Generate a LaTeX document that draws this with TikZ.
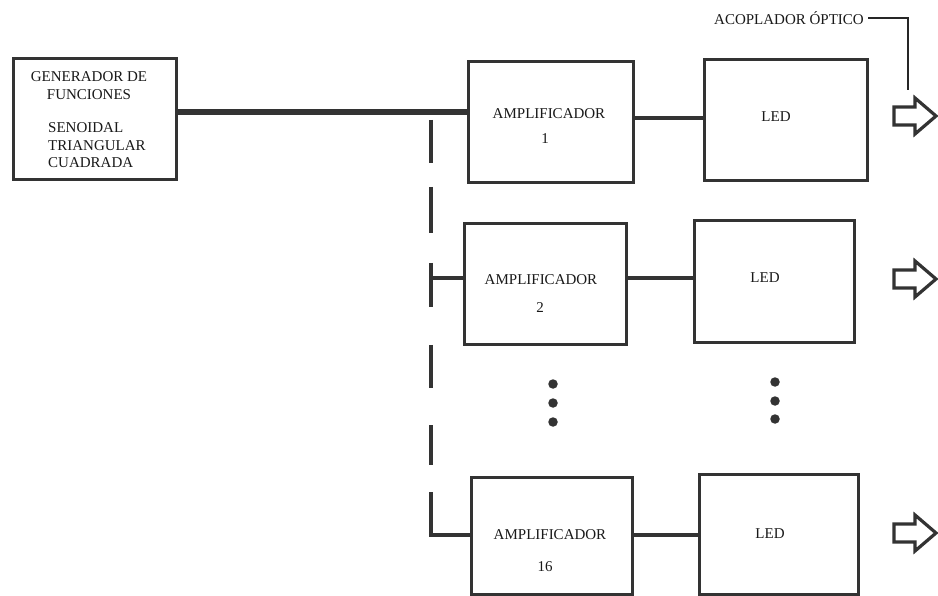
\documentclass[tikz,border=0pt]{standalone}
\usepackage{fontspec}
\setmainfont{Liberation Serif}
\begin{document}
\begin{tikzpicture}[x=1pt,y=-1pt,
  box/.style={draw=black!80, line width=3.4pt, rectangle, anchor=north west, inner sep=0pt},
  txt/.style={font=\fontsize{15}{17}\selectfont, text=black!90, inner sep=0pt},
  wire/.style={draw=black!80, line width=3.2pt},
  bus/.style={draw=black!80, line width=3.2pt},
  dotmark/.style={fill=black!80, circle, inner sep=0pt, minimum size=9.5pt},
  blockarrow/.style={draw=black!80, line width=3.2pt, line join=miter, fill=white}]
\useasboundingbox (0,0) rectangle (938,596);
\fill[white] (0,0) rectangle (938,596);

% generator
\node[box, minimum width=163pt, minimum height=121pt] (gen) at (12,57) {};
\node[txt] (g1) at (89,77) {GENERADOR DE};
\node[txt] (g2) at (89,95) {FUNCIONES};
\node[txt, anchor=west] (g3) at (48,128) {SENOIDAL};
\node[txt, anchor=west] (g4) at (48,146) {TRIANGULAR};
\node[txt, anchor=west] (g5) at (48,163) {CUADRADA};

% amplifiers
\node[box, minimum width=165pt, minimum height=121pt] (amp1) at (467,60) {};
\node[txt] (a1t) at (549,114) {AMPLIFICADOR};
\node[txt] (a1n) at (545,139) {1};
\node[box, minimum width=162pt, minimum height=121pt] (amp2) at (463,222) {};
\node[txt] (a2t) at (541,280) {AMPLIFICADOR};
\node[txt] (a2n) at (540,308) {2};
\node[box, minimum width=161pt, minimum height=117pt] (amp3) at (470,476) {};
\node[txt] (a3t) at (550,535) {AMPLIFICADOR};
\node[txt] (a3n) at (545,567) {16};

% LEDs
\node[box, minimum width=163pt, minimum height=121pt] (led1) at (703,58) {};
\node[txt] (l1t) at (776,117) {LED};
\node[box, minimum width=160pt, minimum height=122pt] (led2) at (693,219) {};
\node[txt] (l2t) at (765,278) {LED};
\node[box, minimum width=159pt, minimum height=120pt] (led3) at (698,473) {};
\node[txt] (l3t) at (770,534) {LED};

% generator to amplifier 1
\draw[wire, line width=5.6pt] (gen.east |- 0,112) -- (amp1.west |- 0,112);

% amplifier to LED links
\draw[wire] (amp1.east |- 0,118) -- (led1.west |- 0,118);
\draw[wire] (amp2.east |- 0,278) -- (led2.west |- 0,278);
\draw[wire] (amp3.east |- 0,535) -- (led3.west |- 0,535);

% dashed bus
\coordinate (b0) at (431,120);
\coordinate (b2) at (431,278);
\coordinate (b3) at (431,535);
\draw[bus] (b0) -- (431,163);
\draw[bus] (431,187) -- (431,233);
\draw[bus] (431,263) -- (431,307);
\draw[bus] (b2) -- (amp2.west |- b2);
\draw[bus] (431,345) -- (431,388);
\draw[bus] (431,425) -- (431,465);
\draw[bus, line join=miter] (431,492) -- (b3) -- (amp3.west |- b3);

% dots
\node[dotmark] (d1) at (553,384) {};
\node[dotmark] (d2) at (553,403) {};
\node[dotmark] (d3) at (553,422) {};
\node[dotmark] (d4) at (775,382) {};
\node[dotmark] (d5) at (775,401) {};
\node[dotmark] (d6) at (775,419) {};

% block arrows
\foreach \c in {116,279,533}{
  \draw[blockarrow] (894,\c-9) -- (915,\c-9) -- (915,\c-18) -- (936,\c) -- (915,\c+18) -- (915,\c+9) -- (894,\c+9) -- cycle;
}

% optical coupler label
\node[txt, anchor=east] (acop) at (864,18) {ACOPLADOR ÓPTICO};
\coordinate (acend) at (908,90);
\draw[black!85, line width=1.1pt] (acop.east) ++(4,0) -- (908,18) -- (acend);
\end{tikzpicture}
\end{document}
